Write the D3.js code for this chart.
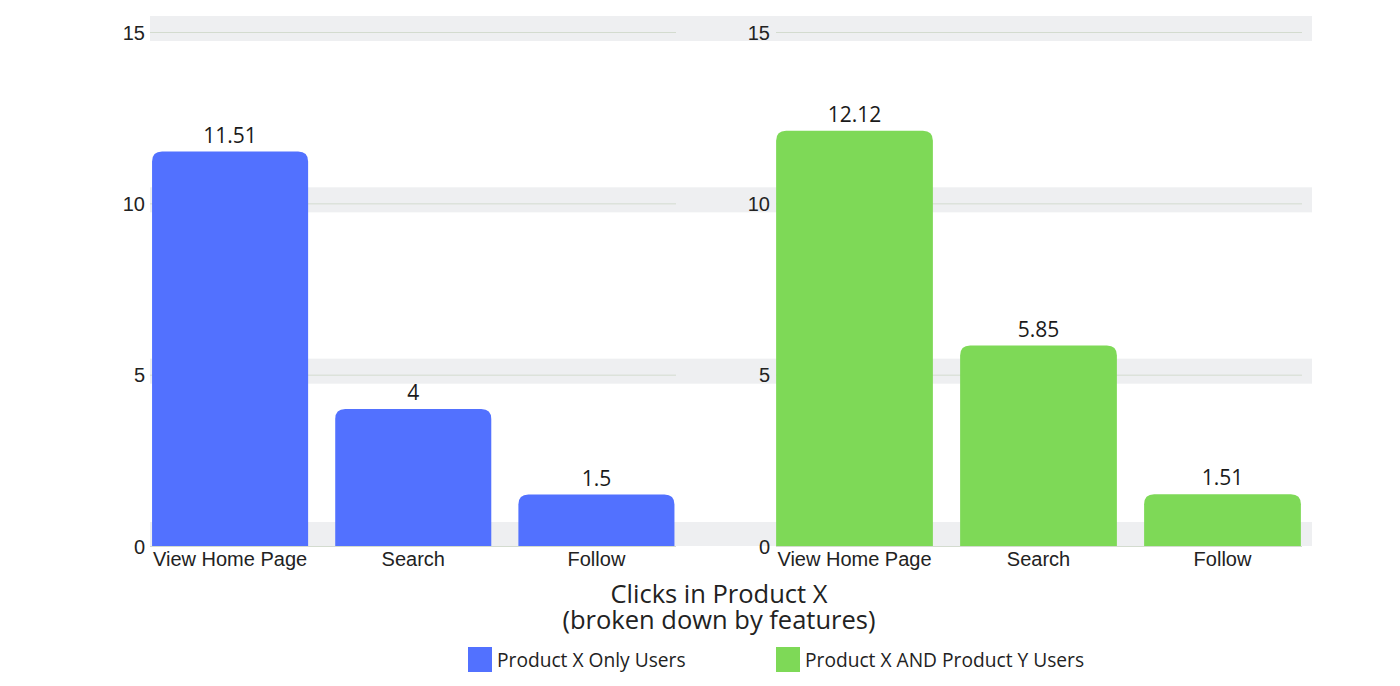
<!DOCTYPE html>
<html><head><meta charset="utf-8">
<script src="https://cdn.jsdelivr.net/npm/d3@7"></script>
<style>body{margin:0;background:#fff}svg{display:block}</style>
</head><body><div id="chart"></div>
<script>
const categories = ["View Home Page", "Search", "Follow"];
const seriesNames = ["Product X Only Users", "Product X AND Product Y Users"];
const productXOnly = [11.51, 4, 1.5];
const productXAndY = [12.12, 5.85, 1.51];
const yTicks = [0, 5, 10, 15];
const titleLines = ["Clicks in Product X", "(broken down by features)"];
const colors = ["#5271ff", "#7ed957"];

const W = 1400, H = 686;
const svg = d3.select("#chart").append("svg").attr("width", W).attr("height", H);

const y = d3.scaleLinear().domain([0, 15]).range([546, 32]);

const panels = [
  {values: productXOnly, color: colors[0], range: [138.5, 688], grid: [150, 676], labelX: 145},
  {values: productXAndY, color: colors[1], range: [762.5, 1314.5], grid: [776, 1302], labelX: 770}
];

// gray bands spanning both panels
const bandG = svg.append("g");
yTicks.forEach(t => {
  const top = t === 0 ? y(t) - 24 : y(t) - 16;
  const bot = t === 0 ? y(t) : y(t) + 9;
  bandG.append("rect").attr("x", 150).attr("width", 1312 - 150)
    .attr("y", top).attr("height", bot - top).attr("fill", "#eeeff1");
});

panels.forEach(p => {
  const x = d3.scaleBand().domain(categories).range(p.range)
    .paddingInner(0.148).paddingOuter(0.074);
  const g = svg.append("g");
  g.selectAll("line.grid").data(yTicks).join("line")
    .attr("x1", p.grid[0]).attr("x2", p.grid[1])
    .attr("y1", d => y(d) + 0.5).attr("y2", d => y(d) + 0.5)
    .attr("stroke", "#d3dbcf").attr("stroke-width", 1);
  const yAxis = d3.axisLeft(y).tickValues(yTicks).tickSize(0).tickPadding(0);
  const ya = g.append("g").attr("transform", `translate(${p.labelX},0)`).call(yAxis);
  ya.select(".domain").remove();
  ya.selectAll("text").attr("font-family", "Liberation Sans, Arial, sans-serif")
    .attr("font-size", 20).attr("fill", "#222").attr("dy", "0.36em");
  const r = 10;
  g.selectAll("path.bar").data(categories).join("path")
    .attr("fill", p.color)
    .attr("d", (c, i) => {
      const x0 = x(c), w = x.bandwidth(), yt = y(p.values[i]), yb = y(0);
      return `M${x0},${yb}V${yt + r}Q${x0},${yt} ${x0 + r},${yt}H${x0 + w - r}Q${x0 + w},${yt} ${x0 + w},${yt + r}V${yb}Z`;
    });
  g.selectAll("text.val").data(categories).join("text")
    .attr("x", c => x(c) + x.bandwidth() / 2)
    .attr("y", (c, i) => y(p.values[i]) - 9)
    .attr("text-anchor", "middle")
    .attr("font-family", "Open Sans, sans-serif").attr("font-size", 21).attr("fill", "#1a1a1a")
    .text((c, i) => p.values[i]);
  const xAxis = d3.axisBottom(x).tickSize(0).tickPadding(0);
  const xa = g.append("g").attr("transform", `translate(0,${y(0)})`).call(xAxis);
  xa.select(".domain").remove();
  xa.selectAll("text").attr("font-family", "Liberation Sans, Arial, sans-serif")
    .attr("font-size", 20).attr("fill", "#222").attr("dy", "0").attr("y", 20);
});

// title (two lines)
titleLines.forEach((line, i) => {
  svg.append("text").attr("x", 719).attr("y", 603 + i * 26).attr("text-anchor", "middle")
    .attr("font-family", "Open Sans, sans-serif").attr("font-size", 25.5).attr("fill", "#222")
    .text(line);
});

// legend
const legendX = [468, 776];
seriesNames.forEach((name, i) => {
  svg.append("rect").attr("x", legendX[i]).attr("y", 647).attr("width", 24).attr("height", 25)
    .attr("fill", colors[i]);
  svg.append("text").attr("x", legendX[i] + 29).attr("y", 667)
    .attr("font-family", "Open Sans, sans-serif").attr("font-size", 19.2).attr("fill", "#222")
    .text(name);
});
</script></body></html>
